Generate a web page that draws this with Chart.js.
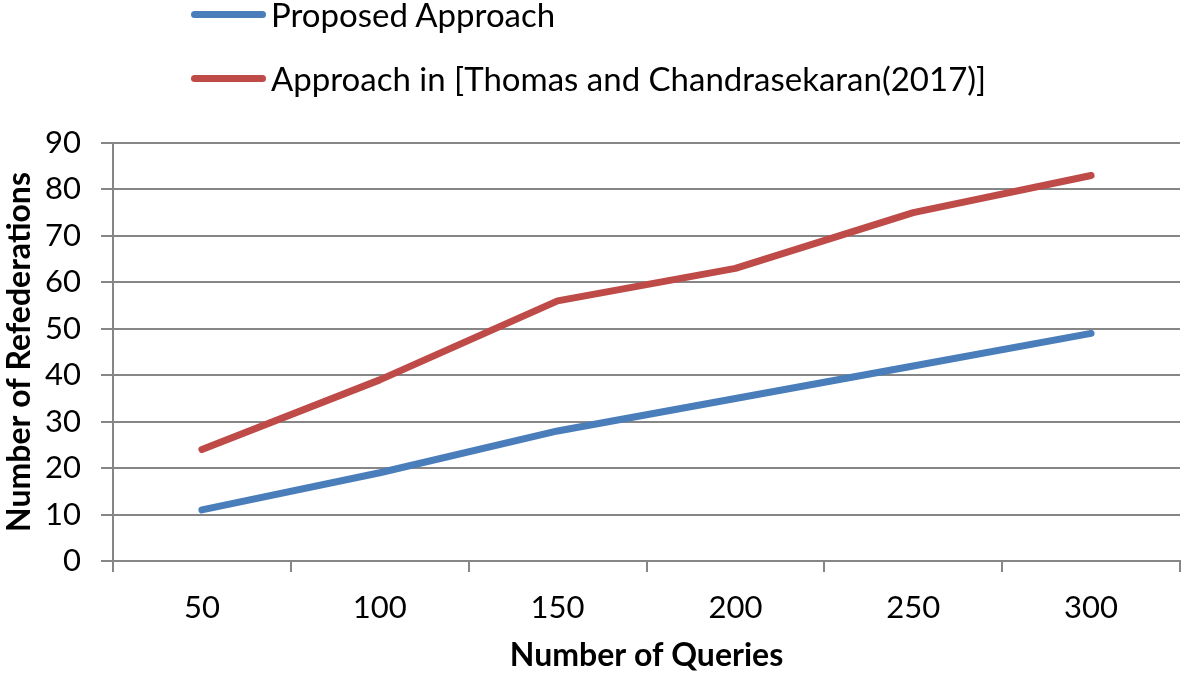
<!DOCTYPE html>
<html>
<head>
<meta charset="utf-8">
<script src="https://cdn.jsdelivr.net/npm/chart.js@4.4.1/dist/chart.umd.min.js"></script>
<style>
  html, body { margin: 0; padding: 0; background: #fff; }
  #wrap { position: relative; width: 1182px; height: 675px; }
  canvas { position: absolute; left: 0; top: 0; }
  .leg { position: absolute; left: 191px; font-family: Lato, "Open Sans", sans-serif; font-size: 33px; color: #000; display: flex; align-items: center; white-space: nowrap; }
  .leg span.sw { display: inline-block; width: 75px; height: 7px; border-radius: 4px; margin-right: 5px; }
</style>
</head>
<body>
<div id="wrap">
  <canvas id="c" width="1182" height="675"></canvas>
  <div class="leg" id="leg0" style="top:-6px"></div>
  <div class="leg" id="leg1" style="top:58px"></div>
</div>
<script>
const categories = ["50", "100", "150", "200", "250", "300"];
const proposed = [11, 19, 28, 35, 42, 49];
const thomas = [24, 39, 56, 63, 75, 83];
const seriesNames = ["Proposed Approach", "Approach in [Thomas and Chandrasekaran(2017)]"];
const seriesColors = ["#4A7EBB", "#BE4B48"];
const yTitle = "Number of Refederations";
const xTitle = "Number of Queries";

const font = "Lato, 'Open Sans', sans-serif";
const gridColor = "#868686";

const ctx = document.getElementById("c").getContext("2d");
new Chart(ctx, {
  type: "line",
  data: {
    labels: categories,
    datasets: [
      { label: seriesNames[0], data: proposed, borderColor: seriesColors[0], backgroundColor: seriesColors[0], borderWidth: 7, pointRadius: 0, tension: 0, borderCapStyle: "round", borderJoinStyle: "round" },
      { label: seriesNames[1], data: thomas, borderColor: seriesColors[1], backgroundColor: seriesColors[1], borderWidth: 7, pointRadius: 0, tension: 0, borderCapStyle: "round", borderJoinStyle: "round" }
    ]
  },
  options: {
    responsive: false,
    animation: false,
    devicePixelRatio: 1,
    layout: { padding: { top: 143, right: 2, left: 0, bottom: 0 } },
    plugins: { legend: { display: false }, tooltip: { enabled: false } },
    scales: {
      x: {
        type: "category",
        offset: true,
        grid: { offset: true, drawOnChartArea: false, drawTicks: true, tickLength: 11, color: gridColor, lineWidth: 2 },
        border: { display: true, color: gridColor, width: 2 },
        ticks: { color: "#000", font: { family: font, size: 31 }, padding: 17, maxRotation: 0 },
        title: { display: true, text: xTitle, color: "#000", font: { family: font, size: 32, weight: "bold" }, padding: { top: 6, bottom: 0 } },
        afterFit: (s) => { s.height = 114; }
      },
      y: {
        min: 0, max: 90,
        ticks: { stepSize: 10, color: "#000", font: { family: font, size: 31 }, padding: 20 },
        grid: { color: gridColor, lineWidth: 2, drawTicks: true, tickLength: 12 },
        border: { display: true, color: gridColor, width: 2 },
        title: { display: true, text: yTitle, color: "#000", font: { family: font, size: 32, weight: "bold" }, padding: { top: 0, bottom: 2 } },
        afterFit: (s) => { s.width = 113; }
      }
    }
  }
});

[0, 1].forEach(i => {
  const el = document.getElementById("leg" + i);
  const sw = document.createElement("span");
  sw.className = "sw";
  sw.style.background = seriesColors[i];
  el.appendChild(sw);
  el.appendChild(document.createTextNode(seriesNames[i]));
});
</script>
</body>
</html>
